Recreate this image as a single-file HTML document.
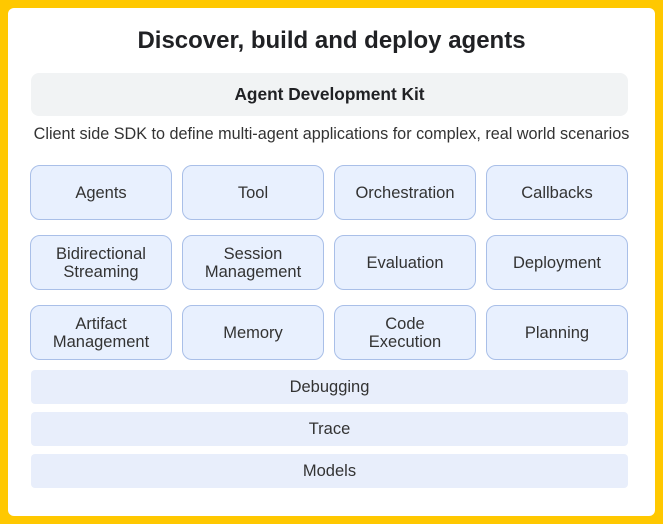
<!DOCTYPE html>
<html><head><style>
body{margin:0;width:663px;height:524px;background:#FFC800;position:relative;overflow:hidden;font-family:"Liberation Sans",sans-serif;color:#202124}
.w{position:absolute;left:8px;top:8px;width:647px;height:508px;background:#fff;border-radius:6px}
.a{position:absolute;display:flex;align-items:center;justify-content:center;text-align:center;box-sizing:border-box}
.b{background:#E8F0FE;border:1.5px solid #A9BFE8;border-radius:10px;width:142px;height:55px;font-size:16.5px;line-height:18px;color:#333}
.f{background:#E8EEFB;border-radius:4px;left:31px;width:597px;height:34px;font-size:16.5px;color:#333}
</style></head><body>
<div class="w"></div>
<div class="a" style="left:0;width:663px;top:24px;height:34px;font-size:24px;font-weight:bold">Discover, build and deploy agents</div>
<div class="a" style="left:31px;top:73px;width:597px;height:43px;background:#F1F3F4;border-radius:8px;font-size:17.3px;font-weight:bold">Agent Development Kit</div>
<div class="a" style="left:0;width:663px;top:123px;height:22px;font-size:16.2px;color:#333">Client side SDK to define multi-agent applications for complex, real world scenarios</div>
<div class="a b" style="left:30px;top:165px">Agents</div>
<div class="a b" style="left:182px;top:165px">Tool</div>
<div class="a b" style="left:334px;top:165px">Orchestration</div>
<div class="a b" style="left:486px;top:165px">Callbacks</div>
<div class="a b" style="left:30px;top:235px">Bidirectional<br>Streaming</div>
<div class="a b" style="left:182px;top:235px">Session<br>Management</div>
<div class="a b" style="left:334px;top:235px">Evaluation</div>
<div class="a b" style="left:486px;top:235px">Deployment</div>
<div class="a b" style="left:30px;top:305px">Artifact<br>Management</div>
<div class="a b" style="left:182px;top:305px">Memory</div>
<div class="a b" style="left:334px;top:305px">Code<br>Execution</div>
<div class="a b" style="left:486px;top:305px">Planning</div>
<div class="a f" style="top:370px">Debugging</div>
<div class="a f" style="top:412px">Trace</div>
<div class="a f" style="top:454px">Models</div>
</body></html>
